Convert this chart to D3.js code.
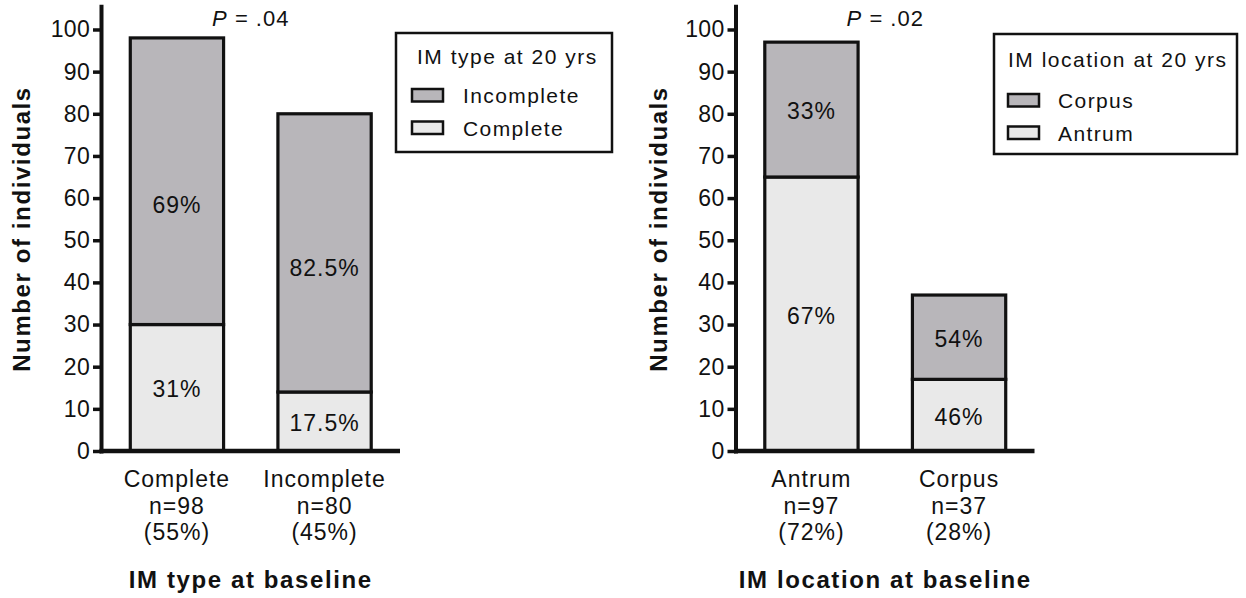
<!DOCTYPE html>
<html>
<head>
<meta charset="utf-8">
<script src="https://cdn.jsdelivr.net/npm/d3@7"></script>
<style>
  html, body { margin: 0; padding: 0; background: #fff; }
  svg { display: block; font-family: "Liberation Sans", Arial, Helvetica, sans-serif; }
</style>
</head>
<body>
<svg id="chart" width="1246" height="598"></svg>
<script>
// ---- Data -------------------------------------------------------------
// Panel A: IM type at baseline, split by IM type at 20 years
const typeCategories = ["Complete", "Incomplete"];
const typeCompleteAt20 = [30, 14];     // lower (light) segment
const typeIncompleteAt20 = [68, 66];   // upper (dark) segment
const typeLowerPct = ["31%", "17.5%"];
const typeUpperPct = ["69%", "82.5%"];
const typeLegend = ["Incomplete", "Complete"];
const typePValue = ".04";

// Panel B: IM location at baseline, split by IM location at 20 years
const locCategories = ["Antrum", "Corpus"];
const locAntrumAt20 = [65, 17];        // lower (light) segment
const locCorpusAt20 = [32, 20];        // upper (dark) segment
const locLowerPct = ["67%", "46%"];
const locUpperPct = ["33%", "54%"];
const locLegend = ["Corpus", "Antrum"];
const locPValue = ".02";

const yTicks = [0, 10, 20, 30, 40, 50, 60, 70, 80, 90, 100];

// ---- Styling ------------------------------------------------------------
const DARK = "#b8b6ba";
const LIGHT = "#e9e9e9";
const INK = "#111";

const svg = d3.select("#chart");
const y = d3.scaleLinear().domain([0, 105.5]).range([451, 6.3]);

const panels = [
  {
    axisX: 101.5,
    cats: typeCategories, lower: typeCompleteAt20, upper: typeIncompleteAt20,
    lowerPct: typeLowerPct, upperPct: typeUpperPct,
    upperLabelAt: [58.8, 43.8],
    p: typePValue, xTitle: "IM type at baseline",
    legendTitle: "IM type at 20 yrs", legendItems: typeLegend,
    legend: { x: 396, y: 33, w: 216, h: 119, titleDx: 21, titleDy: 31, swDx: 16, txtDx: 67, rowDy: 56 },
    yTitleX: 30
  },
  {
    axisX: 736,
    cats: locCategories, lower: locAntrumAt20, upper: locCorpusAt20,
    lowerPct: locLowerPct, upperPct: locUpperPct,
    upperLabelAt: null,
    p: locPValue, xTitle: "IM location at baseline",
    legendTitle: "IM location at 20 yrs", legendItems: locLegend,
    legend: { x: 994, y: 34, w: 243, h: 120, titleDx: 14, titleDy: 32.5, swDx: 14, txtDx: 64, rowDy: 60 },
    yTitleX: 666.5
  }
];

panels.forEach(P => {
  const g = svg.append("g");
  const x = d3.scaleBand()
    .domain(P.cats)
    .range([P.axisX, P.axisX + 298.5])
    .paddingInner(0.368)
    .paddingOuter(0.195);
  const bw = x.bandwidth();
  const totals = P.lower.map((v, i) => v + P.upper[i]);
  const grand = d3.sum(totals);

  // stacked bars
  const bars = g.append("g");
  P.cats.forEach((c, i) => {
    bars.append("rect")
      .attr("x", x(c)).attr("width", bw)
      .attr("y", y(P.lower[i])).attr("height", y(0) - y(P.lower[i]))
      .attr("fill", LIGHT).attr("stroke", INK).attr("stroke-width", 3.2);
    bars.append("rect")
      .attr("x", x(c)).attr("width", bw)
      .attr("y", y(totals[i])).attr("height", y(P.lower[i]) - y(totals[i]))
      .attr("fill", DARK).attr("stroke", INK).attr("stroke-width", 3.2);
  });

  // percentage labels inside segments
  const pctStyle = sel => sel
    .attr("text-anchor", "middle").attr("dy", "0.42em")
    .attr("font-size", 23).attr("letter-spacing", 1).attr("fill", INK);
  P.cats.forEach((c, i) => {
    const cx = x(c) + bw / 2;
    g.append("text").call(pctStyle)
      .attr("x", cx).attr("y", y(P.lower[i] / 2))
      .text(P.lowerPct[i]);
    const upAt = P.upperLabelAt ? P.upperLabelAt[i] : P.lower[i] + P.upper[i] / 2;
    g.append("text").call(pctStyle)
      .attr("x", cx).attr("y", y(upAt))
      .text(P.upperPct[i]);
  });

  // y axis
  const yAxis = g.append("g")
    .attr("transform", `translate(${P.axisX - 0.5},0)`)
    .call(d3.axisLeft(y).tickValues(yTicks).tickSize(8).tickPadding(3).tickSizeOuter(0));
  yAxis.select(".domain").attr("stroke", INK).attr("stroke-width", 4).attr("stroke-linecap", "square");
  yAxis.selectAll(".tick line").attr("stroke", INK).attr("stroke-width", 3.5);
  yAxis.selectAll(".tick text")
    .attr("font-size", 23).attr("letter-spacing", 0.3).attr("fill", INK)
    .attr("font-family", "Liberation Sans, Arial, sans-serif");

  // x axis baseline
  const [r0, r1] = x.range();
  g.append("line")
    .attr("x1", r0 - 2).attr("x2", r1)
    .attr("y1", y(0)).attr("y2", y(0))
    .attr("stroke", INK).attr("stroke-width", 4.5);

  // category labels (three lines)
  P.cats.forEach((c, i) => {
    const t = g.append("text")
      .attr("text-anchor", "middle").attr("font-size", 23)
      .attr("letter-spacing", 1).attr("fill", INK);
    const cx = x(c) + bw / 2;
    const lines = [c, `n=${totals[i]}`, `(${Math.round(totals[i] / grand * 100)}%)`];
    const offs = [36, 62.5, 89];
    lines.forEach((s, k) => t.append("tspan").attr("x", cx).attr("y", y(0) + offs[k]).text(s));
  });

  const mid = (x(P.cats[0]) + x(P.cats[1])) / 2 + bw / 2;

  // x axis title
  g.append("text")
    .attr("x", mid).attr("y", 587.5)
    .attr("text-anchor", "middle").attr("font-size", 24).attr("font-weight", "bold")
    .attr("letter-spacing", 1.6).attr("fill", INK)
    .text(P.xTitle);

  // y axis title
  g.append("text")
    .attr("transform", `translate(${P.yTitleX},229) rotate(-90)`)
    .attr("text-anchor", "middle").attr("font-size", 24).attr("font-weight", "bold")
    .attr("letter-spacing", 1.6).attr("fill", INK)
    .text("Number of individuals");

  // P value
  const pt = g.append("text")
    .attr("x", mid).attr("y", 26)
    .attr("text-anchor", "middle").attr("font-size", 22)
    .attr("letter-spacing", 1).attr("fill", INK);
  pt.append("tspan").attr("font-style", "italic").text("P");
  pt.append("tspan").text(" = " + P.p);

  // legend
  const L = P.legend;
  const lg = g.append("g").attr("transform", `translate(${L.x},${L.y})`);
  lg.append("rect")
    .attr("width", L.w).attr("height", L.h)
    .attr("fill", "#fff").attr("stroke", INK).attr("stroke-width", 2.5);
  lg.append("text")
    .attr("x", L.titleDx).attr("y", L.titleDy)
    .attr("font-size", 21).attr("letter-spacing", 1.5).attr("fill", INK)
    .text(P.legendTitle);
  const fills = [DARK, LIGHT];
  P.legendItems.forEach((name, k) => {
    const ry = L.rowDy + k * 32.5;
    lg.append("rect")
      .attr("x", L.swDx).attr("y", ry).attr("width", 31).attr("height", 12.5)
      .attr("fill", fills[k]).attr("stroke", INK).attr("stroke-width", 2.5);
    lg.append("text")
      .attr("x", L.txtDx).attr("y", ry + 14)
      .attr("font-size", 21).attr("letter-spacing", 1.4).attr("fill", INK)
      .text(name);
  });
});
</script>
</body>
</html>
